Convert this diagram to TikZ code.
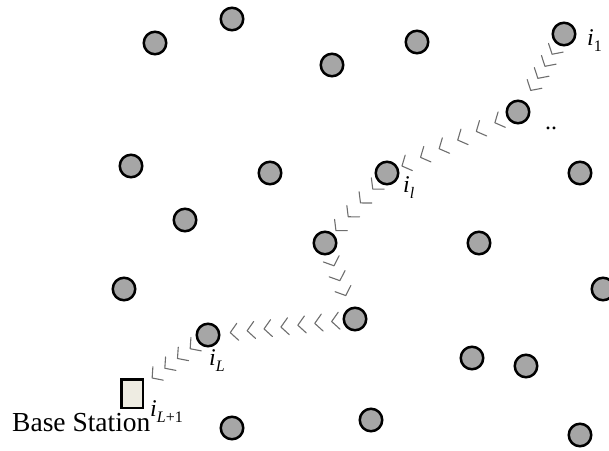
\documentclass[tikz,border=0pt]{standalone}
\usepackage{fontspec}
\setmainfont{Liberation Serif}
\usetikzlibrary{decorations.markings}
\definecolor{nodefill}{RGB}{166,166,166}
\definecolor{stationfill}{RGB}{238,236,226}
\definecolor{hopgray}{RGB}{110,110,110}
% lowered index after a node symbol
\newcommand{\hopsub}[1]{\raisebox{-6pt}{\fontsize{16}{16}\selectfont #1}}
\begin{document}
\begin{tikzpicture}[x=1pt,y=-1pt,
  sensor/.style={circle, draw=black, line width=2.5pt, fill=nodefill,
                 minimum size=22.5pt, inner sep=0pt},
  station/.style={rectangle, draw=black, line width=2.5pt, fill=stationfill,
                  minimum width=21.5pt, minimum height=28.5pt, inner sep=0pt},
  chev/.style={draw=hopgray, line width=1.1pt, line cap=round, line join=round},
  hop/.style n args={3}{decorate, decoration={markings,
      mark=between positions #1 and #2 step #3 with
      {\draw[chev] (-7.5pt,8.5pt) -- (0pt,0pt) -- (-7.5pt,-8.5pt);}}},
  lbl/.style={anchor=base west, inner sep=0pt, font=\fontsize{24}{28}\selectfont}]
\useasboundingbox (0,0) rectangle (609,450);

% sensor field
\node[sensor] (n1)  at (155,43)  {};
\node[sensor] (n2)  at (232,19)  {};
\node[sensor] (n3)  at (332,65)  {};
\node[sensor] (n4)  at (417,42)  {};
\node[sensor] (n5)  at (564,34)  {};
\node[sensor] (n6)  at (518,112) {};
\node[sensor] (n7)  at (131,166) {};
\node[sensor] (n8)  at (270,173) {};
\node[sensor] (n9)  at (387,173) {};
\node[sensor] (n10) at (580,173) {};
\node[sensor] (n11) at (185,220) {};
\node[sensor] (n12) at (325,243) {};
\node[sensor] (n13) at (479,243) {};
\node[sensor] (n14) at (124,289) {};
\node[sensor] (n15) at (603,289) {};
\node[sensor] (n16) at (355,319) {};
\node[sensor] (n17) at (208,335) {};
\node[sensor] (n18) at (472,358) {};
\node[sensor] (n19) at (526,366) {};
\node[sensor] (n20) at (232,428) {};
\node[sensor] (n21) at (371,420) {};
\node[sensor] (n22) at (580,435) {};

% base station
\node[station] (bs) at (132,393.5) {};
\node[anchor=base west, inner sep=0pt, font=\fontsize{27.5}{32}\selectfont]
  (bstext) at (12,431) {Base Station};

% multi-hop route towards the base station
\path[hop={11pt}{54pt}{14pt}]     (n5)  -- (n6);
\path[hop={13pt}{118pt}{20.5pt}]  (n6)  -- (n9);
\path[hop={9pt}{65pt}{18.5pt}]    (n9)  -- (n12);
\path[hop={12pt}{45pt}{16pt}]     (n12) -- (n16);
\path[hop={11pt}{114pt}{17pt}]    (n16) -- (n17);
\path[hop={10pt}{59pt}{16pt}]     (n17) -- (bs);

% hop labels
\node[lbl] (l1)    at (587,45)  {{\itshape i}\hopsub{1}};
\node[lbl] (dots)  at (545,129) {..};
\node[lbl] (ll)    at (403,192) {{\itshape i}\hopsub{\itshape l}};
\node[lbl] (lL)    at (209,365) {{\itshape i}\hopsub{\itshape L}};
\node[lbl] (lL1)   at (150,416) {{\itshape i}\hopsub{{\itshape L}+1}};
\end{tikzpicture}
\end{document}
